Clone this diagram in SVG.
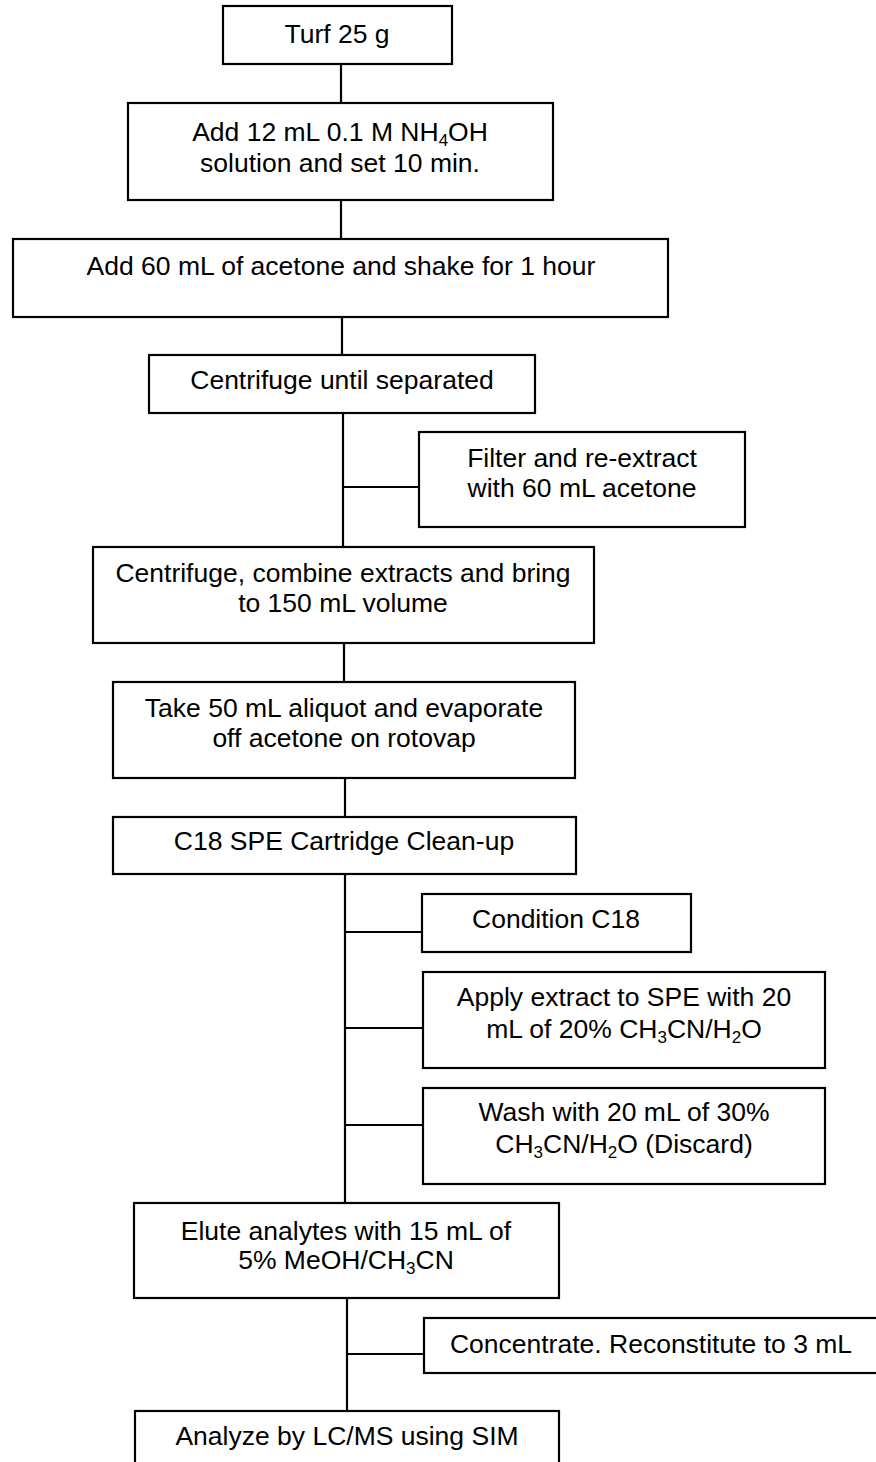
<svg xmlns="http://www.w3.org/2000/svg" width="876" height="1462" viewBox="0 0 876 1462">
<style>
.box{fill:#fff;stroke:#000;stroke-width:2.2}
.ln{stroke:#000;stroke-width:2.2;fill:none}
text{font-family:"Liberation Sans",Arial,sans-serif;font-size:26.5px;fill:#000;text-anchor:middle}
.sub{font-size:17px}
</style>
<rect width="876" height="1462" fill="#fff"/>
<g id="connectors">
<line class="ln" x1="341" y1="64" x2="341" y2="103"/>
<line class="ln" x1="341" y1="200" x2="341" y2="239"/>
<line class="ln" x1="342" y1="317" x2="342" y2="355"/>
<line class="ln" x1="343" y1="413" x2="343" y2="547"/>
<line class="ln" x1="343" y1="487" x2="419" y2="487"/>
<line class="ln" x1="344" y1="643" x2="344" y2="682"/>
<line class="ln" x1="345" y1="778" x2="345" y2="817"/>
<line class="ln" x1="345" y1="874" x2="345" y2="1203"/>
<line class="ln" x1="345" y1="932" x2="422" y2="932"/>
<line class="ln" x1="345" y1="1028" x2="423" y2="1028"/>
<line class="ln" x1="345" y1="1125" x2="423" y2="1125"/>
<line class="ln" x1="347" y1="1298" x2="347" y2="1411"/>
<line class="ln" x1="347" y1="1354" x2="424" y2="1354"/>
</g>
<g id="n1"><rect class="box" x="223" y="6" width="229" height="58"/><text x="337" y="43">Turf 25 g</text></g>
<g id="n2"><rect class="box" x="128" y="103" width="425" height="97"/><text x="340" y="141">Add 12 mL 0.1 M NH<tspan class="sub" dy="5">4</tspan><tspan dy="-5">OH</tspan></text><text x="340" y="172">solution and set 10 min.</text></g>
<g id="n3"><rect class="box" x="13" y="239" width="655" height="78"/><text x="341" y="275">Add 60 mL of acetone and shake for 1 hour</text></g>
<g id="n4"><rect class="box" x="149" y="355" width="386" height="58"/><text x="342" y="389">Centrifuge until separated</text></g>
<g id="n5"><rect class="box" x="419" y="432" width="326" height="95"/><text x="582" y="467">Filter and re-extract</text><text x="582" y="497">with 60 mL acetone</text></g>
<g id="n6"><rect class="box" x="93" y="547" width="501" height="96"/><text x="343" y="582">Centrifuge, combine extracts and bring</text><text x="343" y="612">to 150 mL volume</text></g>
<g id="n7"><rect class="box" x="113" y="682" width="462" height="96"/><text x="344" y="717">Take 50 mL aliquot and evaporate</text><text x="344" y="747">off acetone on rotovap</text></g>
<g id="n8"><rect class="box" x="113" y="817" width="463" height="57"/><text x="344" y="850">C18 SPE Cartridge Clean-up</text></g>
<g id="n9"><rect class="box" x="422" y="894" width="269" height="58"/><text x="556" y="928">Condition C18</text></g>
<g id="n10"><rect class="box" x="423" y="972" width="402" height="96"/><text x="624" y="1006">Apply extract to SPE with 20</text><text x="624" y="1038">mL of 20% CH<tspan class="sub" dy="5">3</tspan><tspan dy="-5">CN/H</tspan><tspan class="sub" dy="5">2</tspan><tspan dy="-5">O</tspan></text></g>
<g id="n11"><rect class="box" x="423" y="1088" width="402" height="96"/><text x="624" y="1121">Wash with 20 mL of 30%</text><text x="624" y="1153">CH<tspan class="sub" dy="5">3</tspan><tspan dy="-5">CN/H</tspan><tspan class="sub" dy="5">2</tspan><tspan dy="-5">O (Discard)</tspan></text></g>
<g id="n12"><rect class="box" x="134" y="1203" width="425" height="95"/><text x="346" y="1240">Elute analytes with 15 mL of</text><text x="346" y="1269">5% MeOH/CH<tspan class="sub" dy="5">3</tspan><tspan dy="-5">CN</tspan></text></g>
<g id="n13"><rect class="box" x="424" y="1318" width="456" height="55"/><text x="651" y="1353">Concentrate. Reconstitute to 3 mL</text></g>
<g id="n14"><rect class="box" x="135" y="1411" width="424" height="60"/><text x="347" y="1445">Analyze by LC/MS using SIM</text></g>
</svg>
